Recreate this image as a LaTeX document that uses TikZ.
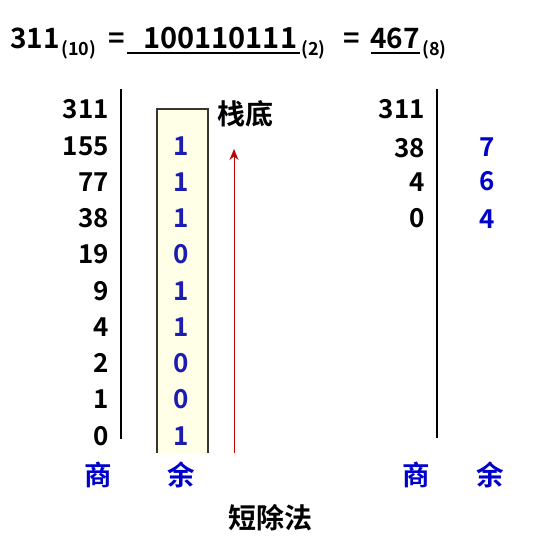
\documentclass[tikz,border=0pt]{standalone}
\usepackage{fontspec}
\usetikzlibrary{arrows.meta}
\setmainfont{Noto Sans CJK SC}[BoldFont={Noto Sans CJK SC Bold}]
\definecolor{boxfill}{HTML}{FFFFE8}
\definecolor{digblue}{HTML}{1C1CB0}
\definecolor{hdblue}{HTML}{0000CC}
\definecolor{arrred}{HTML}{C00000}
\begin{document}
\begin{tikzpicture}[x=1pt,y=-1pt,
  num/.style={font=\bfseries\fontsize{26}{30}\selectfont, inner sep=0pt, anchor=base east},
  rem/.style={font=\bfseries\fontsize{26}{30}\selectfont, inner sep=0pt, anchor=base, text=digblue},
  oct/.style={font=\bfseries\fontsize{26}{30}\selectfont, inner sep=0pt, anchor=base, text=hdblue},
  head/.style={font=\bfseries\fontsize{27.5}{30}\selectfont, inner sep=0pt, anchor=base, text=hdblue},
  cjk/.style={font=\bfseries\fontsize{28}{30}\selectfont, inner sep=0pt},
  big/.style={font=\bfseries\fontsize{28}{30}\selectfont, inner sep=0pt, anchor=base west},
  sub/.style={font=\bfseries\fontsize{18}{20}\selectfont, inner sep=0pt, anchor=base west},
  rule/.style={line width=1.6pt},
  boxside/.style={line width=1.6pt, draw=black!90!yellow}]
\useasboundingbox (0,0) rectangle (543,547);
% title
\node[big] (t1) at (10,48) {311};
\node[sub] (s1) at (61,55) {(10)};
\node[big] (e1) at (108,48) {=};
\node[big, font=\bfseries\fontsize{29}{30}\selectfont] (t2) at (143,48) {100110111};
\node[sub] (s2) at (301,55) {(2)};
\node[big] (e2) at (343,48) {=};
\node[big] (t3) at (370,48) {467};
\node[sub] (s3) at (422,55) {(8)};
\coordinate (u1a) at (127,53); \coordinate (u1b) at (300,53);
\coordinate (u2a) at (371,53); \coordinate (u2b) at (420,53);
\draw[line width=1.4pt] (u1a) -- (u1b);
\draw[line width=1.4pt] (u2a) -- (u2b);
% box
\coordinate (bA) at (157,453); \coordinate (bB) at (157,109);
\coordinate (bC) at (208,109); \coordinate (bD) at (208,453);
\fill[boxfill] (bA) rectangle (bC);
\draw[boxside] (bA) -- (bB) -- (bC) -- (bD);
% left rule
\coordinate (l1) at (121,89); \coordinate (l2) at (121,439);
\draw[rule] (l1) -- (l2);
% left numbers
\foreach \v/\y [count=\i] in {311/118,155/155,77/191,38/227,19/263,9/300,4/336,2/372,1/408,0/445}
  \node[num] (q\i) at (109,\y) {\v};
\foreach \v/\y [count=\i] in {1/155,1/191,1/227,0/263,1/300,1/336,0/372,0/408,1/445}
  \node[rem] (r\i) at (181,\y) {\v};
\node[cjk, anchor=base west] (bot) at (217,124) {栈底};
% arrow
\coordinate (a1) at (234,453); \coordinate (a2) at (234,149);
\draw[arrred, line width=1pt, -{Stealth[length=11pt,width=9pt]}] (a1) -- (a2);
\node[head] (h1) at (98,485) {商};
\node[head] (h2) at (181,485) {余};
\node[cjk, anchor=base] (title2) at (270,528) {短除法};
% right
\coordinate (r1) at (437,89); \coordinate (r2) at (437,438);
\draw[rule] (r1) -- (r2);
\foreach \v/\y [count=\i] in {311/118,38/157,4/191,0/227}
  \node[num] (p\i) at (425,\y) {\v};
\foreach \v/\y [count=\i] in {7/156,6/190,4/228}
  \node[oct] (o\i) at (487,\y) {\v};
\node[head] (h3) at (416,485) {商};
\node[head] (h4) at (490,485) {余};
\end{tikzpicture}
\end{document}
